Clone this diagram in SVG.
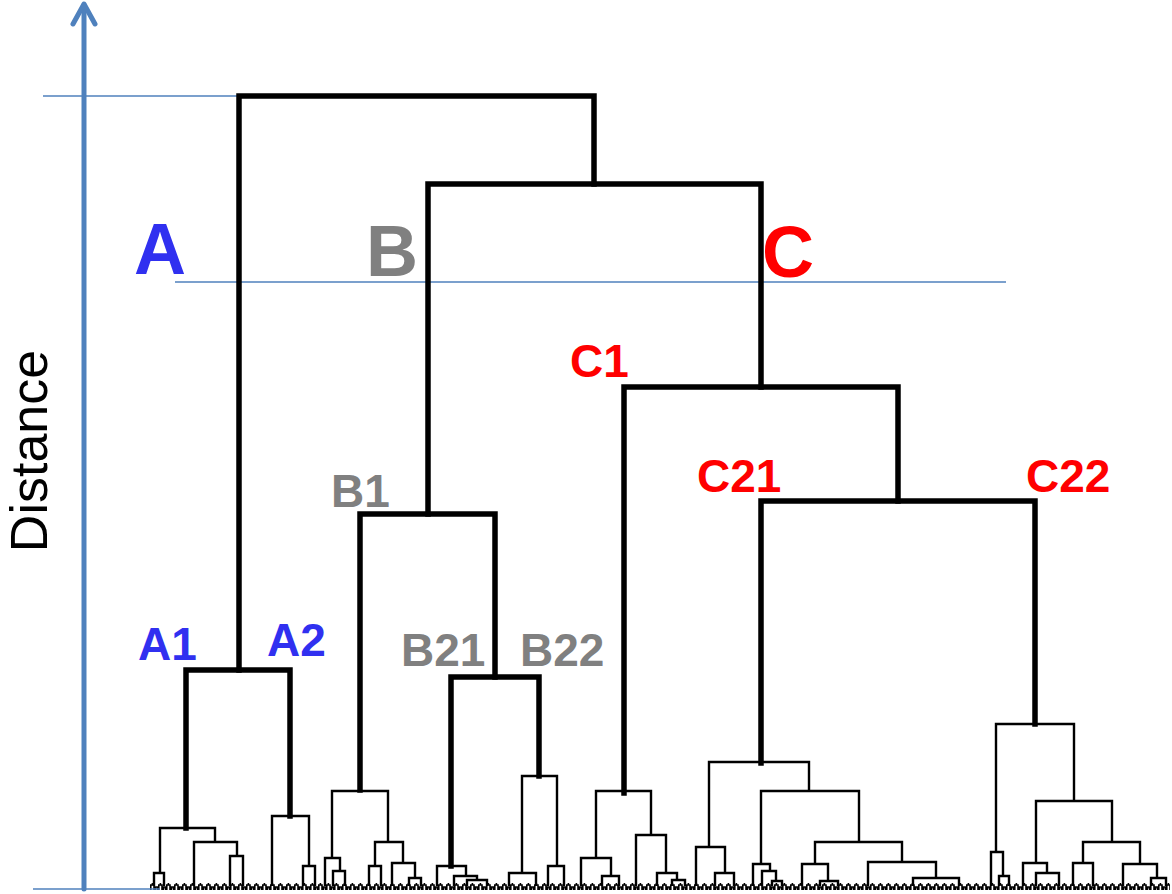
<svg xmlns="http://www.w3.org/2000/svg" width="1172" height="894" viewBox="0 0 1172 894">
<style>
.thick{fill:none;stroke:#000;stroke-width:5.5;stroke-linejoin:miter;stroke-linecap:square}
.thin{fill:none;stroke:#000;stroke-width:2.4;stroke-linejoin:miter}
.guide{fill:none;stroke:#4F81BD;stroke-width:1.5}
.axis{fill:none;stroke:#4F81BD;stroke-width:5;stroke-linecap:round;stroke-linejoin:round}
.lbl{font-family:"Liberation Sans",Arial,sans-serif;font-weight:bold}
.big{font-size:72px}
.small{font-size:46px}
.blue{fill:#3030F0}
.gray{fill:#808080}
.red{fill:#FF0000}
</style>
<defs>
<pattern id="leaves" patternUnits="userSpaceOnUse" x="150" y="880" width="8" height="10">
<path d="M0.8,10 V5 H4 V10 M5.5,10 V7 H7.5 V10 M2.4,5 V3" fill="none" stroke="#000" stroke-width="1.6"/>
</pattern>
</defs>
<rect width="1172" height="894" fill="#fff"/>
<g id="guides">
<line class="guide" x1="43" y1="96" x2="240" y2="96"/>
<line class="guide" x1="175" y1="282" x2="1006" y2="282"/>
</g>
<g id="connectors">
<g id="tree-thin">
<path class="thin" d="M160,873 V828 H215 V842 M194,886 V842 H237 V856 M230,886 V856 H243 V886 M154,886 V873 H164 V886"/>
<path class="thin" d="M272,886 V816 H309 V866 M303,886 V866 H315 V886"/>
<path class="thin" d="M332,858 V791 H388 V842 M325,886 V858 H340 V871 M333,886 V871 H345 V886 M375,866 V842 H403 V863 M369,886 V866 H381 V886 M392,886 V863 H415 V878 M409,886 V878 H421 V886"/>
<path class="thin" d="M437,886 V866 H466 V876 M454,886 V876 H477 V880 M467,886 V880 H487 V886"/>
<path class="thin" d="M522,873 V776 H557 V866 M509,886 V873 H536 V886 M548,886 V866 H564 V886"/>
<path class="thin" d="M596,858 V791 H651 V835 M581,886 V858 H611 V876 M602,886 V876 H619 V886 M636,886 V835 H666 V873 M657,886 V873 H677 V880 M672,886 V880 H685 V886"/>
<path class="thin" d="M709,847 V762 H809 V791 M696,886 V847 H725 V873 M715,886 V873 H734 V886 M761,864 V791 H859 V842 M753,886 V864 H770 V871 M762,886 V871 H776 V881 M772,886 V881 H782 V886 M815,864 V842 H902 V862 M802,886 V864 H828 V881 M820,886 V881 H838 V886 M868,886 V862 H936 V878 M913,886 V878 H959 V886"/>
<path class="thin" d="M996,852 V724 H1074 V801 M991,886 V852 H1003 V876 M999,886 V876 H1009 V886 M1036,863 V801 H1112 V842 M1023,886 V863 H1047 V873 M1036,886 V873 H1059 V886 M1083,863 V842 H1140 V864 M1073,886 V863 H1093 V886 M1123,886 V864 H1157 V878 M1151,886 V878 H1166 V886"/>
</g>
<g id="tree-thick">
<path class="thick" d="M239,670 V96 H594 V184"/>
<path class="thick" d="M428,514 V184 H761 V387"/>
<path class="thick" d="M624,793 V387 H898 V501"/>
<path class="thick" d="M761,763 V501 H1035 V724"/>
<path class="thick" d="M360,790 V514 H495 V677"/>
<path class="thick" d="M451,866 V677 H539 V776"/>
<path class="thick" d="M186,828 V670 H290 V816"/>
</g>
<rect id="leaf-band" x="150" y="880" width="1020" height="10" fill="url(#leaves)"/>
</g>
<g id="axis">
<line class="guide" x1="33" y1="889" x2="160" y2="889"/>
<line class="axis" x1="84" y1="889" x2="84" y2="5"/>
<polyline class="axis" points="73,24 84,4 95,24"/>
<text style="font-family:'Liberation Sans',Arial,sans-serif;font-size:52px" fill="#000" text-anchor="middle" transform="translate(47,451) rotate(-90)">Distance</text>
</g>
<g id="node-A"><text class="lbl big blue" x="134" y="274">A</text></g>
<g id="node-B"><text class="lbl big gray" x="366" y="276">B</text></g>
<g id="node-C"><text class="lbl big red" x="762" y="277">C</text></g>
<g id="node-C1"><text class="lbl small red" x="570" y="377">C1</text></g>
<g id="node-C21"><text class="lbl small red" x="697" y="492">C21</text></g>
<g id="node-C22"><text class="lbl small red" x="1026" y="492">C22</text></g>
<g id="node-B1"><text class="lbl small gray" x="331" y="507">B1</text></g>
<g id="node-A1"><text class="lbl small blue" x="138" y="660">A1</text></g>
<g id="node-A2"><text class="lbl small blue" x="267" y="656">A2</text></g>
<g id="node-B21"><text class="lbl small gray" x="401" y="666">B21</text></g>
<g id="node-B22"><text class="lbl small gray" x="520" y="666">B22</text></g>
</svg>
